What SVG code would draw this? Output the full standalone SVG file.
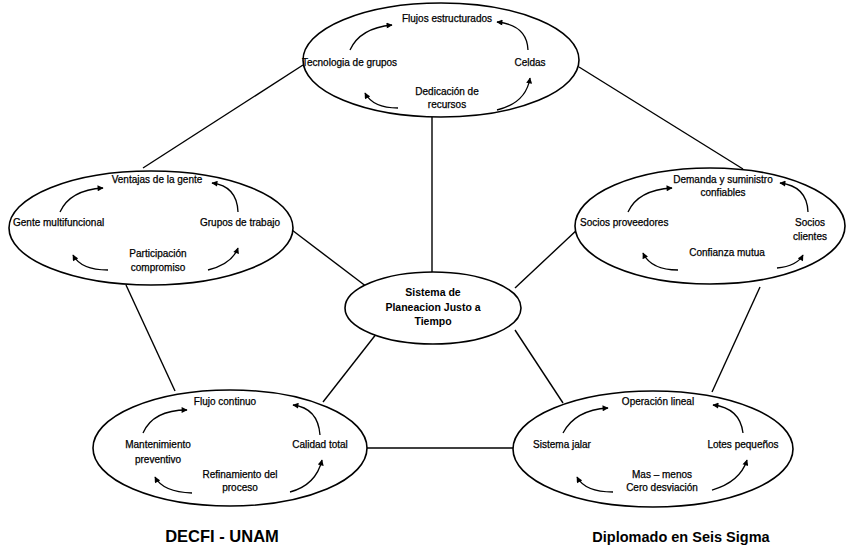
<svg xmlns="http://www.w3.org/2000/svg" width="850" height="546" viewBox="0 0 850 546">
  <style>
    .bg { fill: #ffffff; }
    .oval { fill: #ffffff; stroke: #000000; stroke-width: 1.6; }
    .link { stroke: #000000; stroke-width: 1.4; fill: none; }
    .cyc { stroke: #000000; stroke-width: 1.3; fill: none; marker-end: url(#head); }
    .t { font-family: "Liberation Sans", Arial, sans-serif; font-size: 10px; fill: #000000; stroke: #000000; stroke-width: 0.25; text-anchor: middle; }
    .ts { text-anchor: start; }
    .tc { font-weight: bold; font-size: 10.5px; stroke-width: 0; }
    .foot { font-family: "Liberation Sans", Arial, sans-serif; font-weight: bold; fill: #000000; text-anchor: middle; }
  </style>
  <defs>
    <marker id="head" viewBox="0 0 10 10" refX="9" refY="5" markerWidth="8" markerHeight="6" markerUnits="userSpaceOnUse" orient="auto">
      <path d="M0,0 L10,5 L0,10 z" fill="#000000"/>
    </marker>
  </defs>

  <rect class="bg" x="0" y="0" width="850" height="546"/>

  <!-- connectors: outer pentagon and spokes to the hub -->
  <g id="connectors">
    <line class="link" x1="303" y1="65" x2="143" y2="168"/>
    <line class="link" x1="579" y1="67" x2="743" y2="169"/>
    <line class="link" x1="432" y1="117" x2="432" y2="273"/>
    <line class="link" x1="288" y1="227" x2="367" y2="287"/>
    <line class="link" x1="579" y1="228" x2="515" y2="288"/>
    <line class="link" x1="126" y1="285" x2="175" y2="391"/>
    <line class="link" x1="760" y1="287" x2="712" y2="392"/>
    <line class="link" x1="377" y1="333" x2="323" y2="402"/>
    <line class="link" x1="515" y1="330" x2="563" y2="403"/>
    <line class="link" x1="367" y1="448" x2="513" y2="448"/>
  </g>

  <!-- top: flujos estructurados cycle -->
  <g id="node-flujos">
    <ellipse class="oval" cx="441" cy="60" rx="138" ry="57"/>
    <path class="cyc" d="M350,50 Q360,28 392,25"/>
    <path class="cyc" d="M528,50 Q527,25 497,22"/>
    <path class="cyc" d="M398,108 Q373,108 365,93"/>
    <path class="cyc" d="M497,110 Q526,103 530,78"/>
    <text class="t" x="447" y="22">Flujos estructurados</text>
    <text class="t ts" x="302" y="66">Tecnologia de grupos</text>
    <text class="t" x="530" y="66">Celdas</text>
    <text class="t" x="447" y="95">Dedicación de</text>
    <text class="t" x="447" y="108">recursos</text>
  </g>

  <!-- left: ventajas de la gente cycle -->
  <g id="node-gente">
    <ellipse class="oval" cx="151" cy="228" rx="142" ry="57"/>
    <path class="cyc" d="M60,212 Q70,190 103,188"/>
    <path class="cyc" d="M238,212 Q237,186 212,183"/>
    <path class="cyc" d="M108,270 Q81,270 73,255"/>
    <path class="cyc" d="M208,270 Q232,264 238,248"/>
    <text class="t" x="157" y="183">Ventajas de la gente</text>
    <text class="t ts" x="13" y="226">Gente multifuncional</text>
    <text class="t" x="240" y="226">Grupos de trabajo</text>
    <text class="t" x="158" y="257">Participación</text>
    <text class="t" x="158" y="271">compromiso</text>
  </g>

  <!-- right: demanda y suministro cycle -->
  <g id="node-demanda">
    <ellipse class="oval" cx="710" cy="226" rx="135" ry="58"/>
    <path class="cyc" d="M628,212 Q638,190 672,188"/>
    <path class="cyc" d="M808,212 Q807,186 780,183"/>
    <path class="cyc" d="M678,270 Q651,270 643,253"/>
    <path class="cyc" d="M777,268 Q797,266 803,255"/>
    <text class="t" x="723" y="183">Demanda y suministro</text>
    <text class="t" x="723" y="196">confiables</text>
    <text class="t ts" x="580" y="226">Socios proveedores</text>
    <text class="t" x="810" y="226">Socios</text>
    <text class="t" x="810" y="240">clientes</text>
    <text class="t" x="727" y="256">Confianza mutua</text>
  </g>

  <!-- hub -->
  <g id="node-sistema">
    <ellipse class="oval" cx="433" cy="308" rx="88" ry="36"/>
    <text class="t tc" x="433" y="296">Sistema de</text>
    <text class="t tc" x="433" y="311">Planeacion Justo a</text>
    <text class="t tc" x="433" y="325">Tiempo</text>
  </g>

  <!-- bottom left: flujo continuo cycle -->
  <g id="node-continuo">
    <ellipse class="oval" cx="230" cy="448" rx="137" ry="58"/>
    <path class="cyc" d="M143,433 Q153,410 187,410"/>
    <path class="cyc" d="M320,435 Q318,408 293,405"/>
    <path class="cyc" d="M192,493 Q163,492 155,477"/>
    <path class="cyc" d="M290,492 Q316,485 322,460"/>
    <text class="t" x="225" y="405">Flujo continuo</text>
    <text class="t" x="158" y="448">Mantenimiento</text>
    <text class="t" x="158" y="463">preventivo</text>
    <text class="t" x="320" y="448">Calidad total</text>
    <text class="t" x="240" y="478">Refinamiento del</text>
    <text class="t" x="240" y="491">proceso</text>
  </g>

  <!-- bottom right: operacion lineal cycle -->
  <g id="node-operacion">
    <ellipse class="oval" cx="653" cy="449" rx="140" ry="58"/>
    <path class="cyc" d="M563,433 Q575,410 608,408"/>
    <path class="cyc" d="M743,433 Q740,408 713,405"/>
    <path class="cyc" d="M613,492 Q585,492 577,477"/>
    <path class="cyc" d="M712,490 Q740,482 747,460"/>
    <text class="t" x="658" y="405">Operación lineal</text>
    <text class="t" x="562" y="448">Sistema jalar</text>
    <text class="t" x="743" y="448">Lotes pequeños</text>
    <text class="t" x="662" y="478">Mas – menos</text>
    <text class="t" x="662" y="491">Cero desviación</text>
  </g>

  <!-- footer captions -->
  <g id="captions">
    <text class="foot" x="222" y="542" font-size="16.5">DECFI - UNAM</text>
    <text class="foot" x="681" y="542" font-size="14.5">Diplomado en Seis Sigma</text>
  </g>
</svg>
